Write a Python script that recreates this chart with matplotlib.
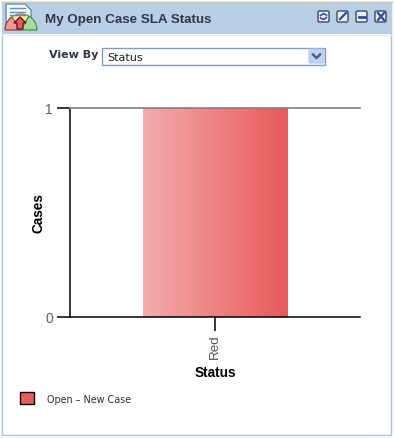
import matplotlib
matplotlib.use("Agg")
import matplotlib.pyplot as plt
from matplotlib.colors import LinearSegmentedColormap
from matplotlib.patches import Rectangle, Wedge, Polygon, FancyBboxPatch
import numpy as np

W, H = 394, 439

categories = ["Red"]
cases = [1]
y_ticks = [0, 1]
series_name = "Open - New Case"
ARIAL = "Liberation Sans"


def px(x, y, w, h):  # pixels (top left) -> figure fraction
    return [x / W, 1 - (y + h) / H, w / W, h / H]


fig = plt.figure(figsize=(W / 100, H / 100), dpi=100)

# window frame, header, dropdown etc in pixel coordinates
bg = fig.add_axes([0, 0, 1, 1])
bg.set_xlim(0, W)
bg.set_ylim(H, 0)
bg.axis("off")
bg.add_patch(Rectangle((0, 0), W, H, fc="white", ec="none"))
bg.add_patch(Rectangle((2.5, 3), W - 5, H - 6, fc="white", ec="#a9c3dc", lw=1))
bg.add_patch(Rectangle((2, 3), W - 4, 32, fc="#b8cfe5", ec="none"))
bg.plot([2, W - 2], [2.5, 2.5], color="#d0c8b0", lw=1)
bg.plot([2, W - 2], [35.5, 35.5], color="#e8eef5", lw=1)

# icon
bg.add_patch(Polygon([(6, 5), (25, 5), (31, 11), (31, 26), (6, 26)], fc="#f4f8fc", ec="#5f92b8", lw=1))
for yy in (9, 12.5, 16):
    bg.plot([10, 25], [yy, yy], color="#5f92b8", lw=1)
bg.add_patch(Wedge((21, 31), 16, 180, 235, fc="#eb9a9a", ec="#8c2b2b", lw=0.8))
bg.add_patch(Wedge((21, 31), 16, 235, 300, fc="#f4e7a0", ec="#8c7b2b", lw=0.8))
bg.add_patch(Wedge((21, 31), 16, 300, 360, fc="#a6dc9a", ec="#3f8a3f", lw=0.8))
bg.add_patch(Polygon([(20, 18), (26, 24), (23, 24), (23, 30), (17, 30), (17, 24), (14, 24)],
                     fc="#e0605c", ec="#7a1515", lw=1))

bg.text(45, 19.5, "My Open Case SLA Status", fontsize=9.6, fontweight="bold", color="#303848",
        va="center", ha="left", family=ARIAL)

# header buttons
for bx in (318, 337, 356, 375):
    bg.add_patch(FancyBboxPatch((bx, 12), 11, 11, boxstyle="round,pad=0,rounding_size=1.5",
                                fc="#e6eefa", ec="#404858", lw=1))
bg.plot([320.5, 323.5, 326.5], [16.5, 14.5, 16], color="#3a4fa8", lw=1.2)
bg.plot([320.5, 323.5, 326.5], [19, 20.5, 18.5], color="#3a4fa8", lw=1.2)
bg.plot([340, 346], [20, 14], color="#2f4a8f", lw=1.6)
bg.plot([339, 347], [21.5, 21.5], color="#808080", lw=0.8)
bg.plot([359, 365], [17.5, 17.5], color="#2f4a8f", lw=2)
bg.plot([378, 384], [14, 21], color="#2f4a8f", lw=1.6)
bg.plot([378, 384], [21, 14], color="#2f4a8f", lw=1.6)

# view by + dropdown
bg.text(49, 55, "View By", fontsize=8, fontweight="bold", color="#303848", va="center", ha="left")
bg.add_patch(Rectangle((102.5, 48.5), 223, 17, fc="white", ec="#7f9db9", lw=1))
bg.text(107, 58, "Status", fontsize=8, color="#202020", va="center", ha="left")
bg.add_patch(FancyBboxPatch((309, 50), 15, 14, boxstyle="round,pad=0,rounding_size=1.5",
                            fc="#c1d2f7", ec="#b0c4ee", lw=0.8))
bg.plot([313, 316.5, 320], [55.5, 59, 55.5], color="#4d6185", lw=1.8)

# chart
ax = fig.add_axes(px(70, 108.5, 290, 209))
ax.patch.set_alpha(0)
x = np.arange(len(categories))
bars = ax.bar(x, cases, width=0.5, color="none", edgecolor="none")
cmap = LinearSegmentedColormap.from_list("bar", ["#f3abab", "#ea5a5a"])
for b in bars:
    ext = [b.get_x(), b.get_x() + b.get_width(), b.get_y(), b.get_y() + b.get_height()]
    ax.imshow(np.linspace(0, 1, 32).reshape(1, -1), extent=ext, cmap=cmap, aspect="auto",
              interpolation="nearest", zorder=2)
ax.set_xlim(-0.5, 0.5)
ax.set_ylim(0, 1)

for s in ("top", "right"):
    ax.spines[s].set_visible(False)
for s in ("left", "bottom"):
    ax.spines[s].set_linewidth(1.1)
    ax.spines[s].set_color("black")
ax.axhline(1, color="#808080", lw=1.2, zorder=3, clip_on=False)

ax.set_yticks(y_ticks)
ax.set_xticks(x)
ax.set_xticklabels(categories, rotation=90, fontsize=9.6, color="#505050", family=ARIAL)
ax.tick_params(axis="y", length=9.4, width=1.1, labelsize=10, labelcolor="#606060", pad=3)
for t in ax.get_yticklabels():
    t.set_family(ARIAL)
ax.tick_params(axis="x", length=10, width=1.1, pad=2)
ax.set_xlabel("Status", fontsize=9.8, fontweight="bold", labelpad=5, family=ARIAL)
ax.set_ylabel("Cases", fontsize=9.8, fontweight="bold", labelpad=0, family=ARIAL)

# legend
bg.add_patch(Rectangle((20.5, 393.5), 14, 12, fc="#ea5a5a", ec="black", lw=1))
bg.text(47, 400.5, series_name.replace("-", "\u2013"), fontsize=6.9, color="#303030", va="center", ha="left")

fig.savefig("out.png", dpi=100)
